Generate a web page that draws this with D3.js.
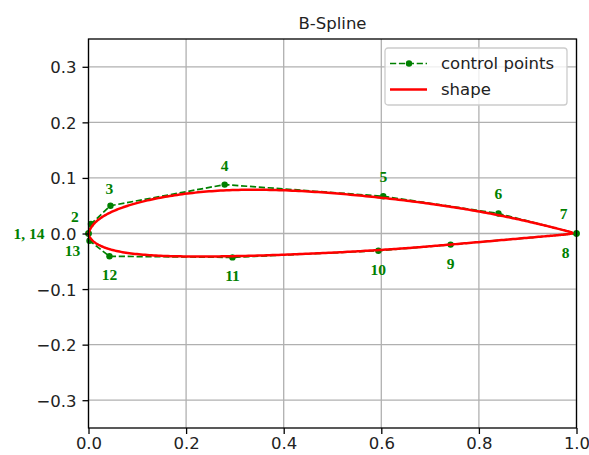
<!doctype html>
<html lang="en">
<head>
    <meta charset="utf-8">
    <title>B-Spline</title>
    <script src="https://cdnjs.cloudflare.com/ajax/libs/d3/7.8.5/d3.min.js"></script>
    <style>
        body { margin: 0; background: #fff; }
        #chart text { font-family: "DejaVu Sans", sans-serif; fill: #222; }
        #chart .grid line { stroke: #b0b0b0; stroke-width: 1.3; }
        #chart .axis path, #chart .axis line { stroke: #000; stroke-width: 1.3; }
        #chart text.pt { font-family: "Liberation Serif", "DejaVu Serif", serif; font-weight: bold; fill: #008000; font-size: 15.5px; }
    </style>
</head>
<body>
    <div id="chart"></div>
    <script>
        // control polygon of the airfoil
        var ctrlX = [0.0, 0.005, 0.045, 0.279, 0.604, 0.84, 1.0, 1.0, 0.742, 0.594, 0.295, 0.043, 0.002, 0.0];
        var ctrlY = [0.0, 0.017, 0.050, 0.088, 0.067, 0.036, 0.0, 0.0, -0.020, -0.031, -0.043, -0.041, -0.013, 0.0];
        var pointLabels = ["1, 14", "2", "3", "4", "5", "6", "7", "8", "9", "10", "11", "12", "13"];
        var xTicks = [0.0, 0.2, 0.4, 0.6, 0.8, 1.0];
        var yTicks = [-0.3, -0.2, -0.1, 0.0, 0.1, 0.2, 0.3];

        var width = 589, height = 455;
        var margin = {top: 39, right: 12.5, bottom: 27, left: 88.5};

        var svg = d3.select("#chart").append("svg")
            .attr("width", width)
            .attr("height", height);

        var x = d3.scaleLinear().domain([0, 1]).range([margin.left, width - margin.right]);
        var y = d3.scaleLinear().domain([-0.35, 0.35]).range([height - margin.bottom, margin.top]);

        // grid
        var grid = svg.append("g").attr("class", "grid");
        grid.selectAll(".gx").data(xTicks).enter().append("line")
            .attr("x1", x).attr("x2", x)
            .attr("y1", y.range()[0]).attr("y2", y.range()[1]);
        grid.selectAll(".gy").data(yTicks).enter().append("line")
            .attr("y1", y).attr("y2", y)
            .attr("x1", x.range()[0]).attr("x2", x.range()[1]);

        // cubic clamped B-spline, evaluated with de Boor
        var pts = ctrlX.map(function(d, i) { return [d, ctrlY[i]]; });
        var deg = 3, n = pts.length;
        var knots = [];
        for (var i = 0; i <= n + deg; i++) {
            if (i <= deg) knots.push(0);
            else if (i >= n) knots.push(1);
            else knots.push((i - deg) / (n - deg));
        }
        function deBoor(t) {
            var k = deg;
            while (k < n - 1 && t >= knots[k + 1]) k++;
            var d = [];
            for (var j = 0; j <= deg; j++) d.push(pts[j + k - deg].slice());
            for (var r = 1; r <= deg; r++) {
                for (var j2 = deg; j2 >= r; j2--) {
                    var a = (t - knots[j2 + k - deg]) / (knots[j2 + 1 + k - r] - knots[j2 + k - deg]);
                    d[j2] = [(1 - a) * d[j2 - 1][0] + a * d[j2][0], (1 - a) * d[j2 - 1][1] + a * d[j2][1]];
                }
            }
            return d[deg];
        }
        var curve = d3.range(0, 1.0001, 0.002).map(function(t) { return deBoor(Math.min(t, 0.999999)); });
        curve[curve.length - 1] = pts[n - 1];

        var line = d3.line().x(function(d) { return x(d[0]); }).y(function(d) { return y(d[1]); });

        var plot = svg.append("g");

        plot.append("path").datum(pts)
            .attr("d", line)
            .attr("fill", "none")
            .attr("stroke", "#008000")
            .attr("stroke-width", 1.7)
            .attr("stroke-dasharray", "6.2,2.7");

        plot.selectAll("circle").data(pts).enter().append("circle")
            .attr("cx", function(d) { return x(d[0]); })
            .attr("cy", function(d) { return y(d[1]); })
            .attr("r", 3.2)
            .attr("fill", "#008000");

        plot.append("path").datum(curve)
            .attr("d", line)
            .attr("fill", "none")
            .attr("stroke", "#ff0000")
            .attr("stroke-width", 2.5);

        // point numbers: [dx, dy, anchor] for the ones that sit off the default spot
        var labelOffsets = {
            0: [-44, 5, "end"],
            1: [-16, -2, "middle"],
            2: [-1, -12, "middle"],
            6: [-13, -15, "middle"],
            7: [-11, 24, "middle"],
            12: [-17, 15, "middle"]
        };
        svg.selectAll("text.pt").data(pointLabels).enter().append("text")
            .attr("class", "pt")
            .attr("x", function(d, i) { var o = labelOffsets[i]; return x(pts[i][0]) + (o ? o[0] : 0); })
            .attr("y", function(d, i) {
                var o = labelOffsets[i];
                if (o) return y(pts[i][1]) + o[1];
                return y(pts[i][1]) + (i < 7 ? -14 : 24);
            })
            .attr("text-anchor", function(d, i) { var o = labelOffsets[i]; return o ? o[2] : "middle"; })
            .text(function(d) { return d; });

        // axes
        var fmt = function(d) { return d3.format(".1f")(d).replace("-", "\u2212"); };
        var xAxis = svg.append("g").attr("class", "axis")
            .attr("transform", "translate(0," + y.range()[0] + ")")
            .call(d3.axisBottom(x).tickValues(xTicks).tickFormat(fmt).tickSize(6).tickPadding(5).tickSizeOuter(0));
        var yAxis = svg.append("g").attr("class", "axis")
            .attr("transform", "translate(" + x.range()[0] + ",0)")
            .call(d3.axisLeft(y).tickValues(yTicks).tickFormat(fmt).tickSize(6).tickPadding(6).tickSizeOuter(0));
        svg.selectAll(".axis text").style("font-size", "16.5px").attr("fill", "#222");
        xAxis.selectAll("text").attr("dy", "0.62em");
        yAxis.selectAll("text").attr("dy", "0.36em");
        svg.selectAll(".axis path.domain").remove();

        svg.append("rect")
            .attr("x", margin.left).attr("y", margin.top)
            .attr("width", x.range()[1] - x.range()[0]).attr("height", y.range()[0] - y.range()[1])
            .attr("fill", "none").attr("stroke", "#000").attr("stroke-width", 1.3);

        svg.append("text")
            .attr("x", (x.range()[0] + x.range()[1]) / 2)
            .attr("y", 29)
            .attr("text-anchor", "middle")
            .style("font-size", "16.5px")
            .text("B-Spline");

        // legend
        var lg = svg.append("g").attr("transform", "translate(385,48)");
        lg.append("rect").attr("width", 182).attr("height", 57).attr("rx", 3)
            .attr("fill", "#fff").attr("fill-opacity", 0.8).attr("stroke", "#ccc").attr("stroke-width", 1.3);
        lg.append("line").attr("x1", 5).attr("x2", 42).attr("y1", 15.5).attr("y2", 15.5)
            .attr("stroke", "#008000").attr("stroke-width", 1.7).attr("stroke-dasharray", "6.2,2.7");
        lg.append("circle").attr("cx", 24).attr("cy", 15.5).attr("r", 3.2).attr("fill", "#008000");
        lg.append("line").attr("x1", 5).attr("x2", 42).attr("y1", 41.5).attr("y2", 41.5)
            .attr("stroke", "#ff0000").attr("stroke-width", 2.5);
        lg.append("text").attr("x", 56).attr("y", 21).style("font-size", "16.5px").text("control points");
        lg.append("text").attr("x", 56).attr("y", 47).style("font-size", "16.5px").text("shape");
    </script>
</body>
</html>
